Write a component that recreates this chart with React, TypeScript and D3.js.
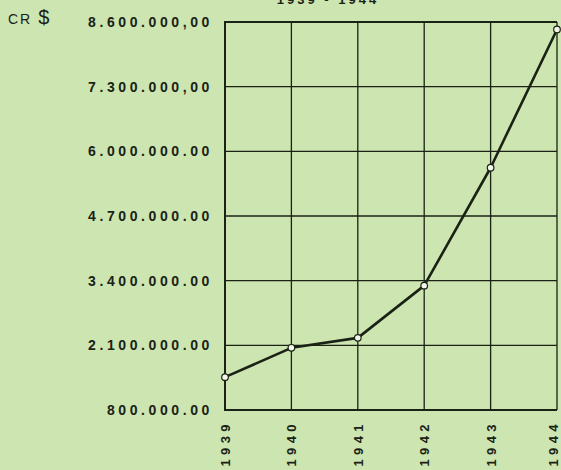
import * as d3 from 'd3';

// valores (Cr$)
const years = ['1939', '1940', '1941', '1942', '1943', '1944'];
const values = [1460000, 2050000, 2250000, 3300000, 5670000, 8450000];
const yTicks = [800000, 2100000, 3400000, 4700000, 6000000, 7300000, 8600000];
const yTickLabels = [
  '800.000.00',
  '2.100.000.00',
  '3.400.000.00',
  '4.700.000.00',
  '6.000.000.00',
  '7.300.000,00',
  '8.600.000,00',
];
const title = '1939 - 1944';
const unit = ['CR', '$'];

const W = 561;
const H = 470;
const margin = { top: 22, right: 4, bottom: 60, left: 225 };
const ink = '#1a2216';
const font = '"Liberation Sans", Arial, sans-serif';

export default function App() {
  const x = d3.scalePoint<string>()
    .domain(years)
    .range([margin.left, W - margin.right]);

  const y = d3.scaleLinear()
    .domain([yTicks[0], yTicks[yTicks.length - 1]])
    .range([H - margin.bottom, margin.top]);

  const line = d3.line<number>()
    .x((_, i) => x(years[i])!)
    .y(d => y(d));

  const x0 = margin.left;
  const x1 = W - margin.right;
  const yBottom = y(yTicks[0]);
  const yTop = y(yTicks[yTicks.length - 1]);

  return (
    <svg
      width={W}
      height={H}
      style={{ position: 'absolute', left: 0, top: 0, background: '#cde5b0' }}
    >
      <rect width={W} height={H} fill="#cde5b0" />

      {/* título cortado arriba */}
      <text x={328} y={4} textAnchor="middle" fontFamily={font} fontWeight="bold" fontSize={13} letterSpacing={3} fill={ink}>
        {title}
      </text>

      <text x={8} y={24} fontFamily={font} fontSize={14} fill={ink}>
        <tspan letterSpacing={2}>{unit[0]}</tspan>
        <tspan dx={6} fontSize={20}>{unit[1]}</tspan>
      </text>

      {/* grilla horizontal */}
      {yTicks.map((t, i) => (
        <g key={t}>
          <line x1={x0} x2={x1} y1={y(t)} y2={y(t)} stroke={ink} strokeWidth={1.3} />
          <text
            x={213}
            y={y(t)}
            dy="0.36em"
            textAnchor="end"
            fontFamily={font}
            fontWeight="bold"
            fontSize={14}
            letterSpacing={3.6}
            fill={ink}
          >
            {yTickLabels[i]}
          </text>
        </g>
      ))}

      {/* grilla vertical y años */}
      {years.map(yr => (
        <g key={yr}>
          <line x1={x(yr)} x2={x(yr)} y1={yTop} y2={yBottom} stroke={ink} strokeWidth={1.3} />
          <text
            transform={`translate(${Math.min(x(yr)! + 5, W - 3)},420) rotate(-90)`}
            textAnchor="end"
            fontFamily={font}
            fontWeight="bold"
            fontSize={13}
            letterSpacing={4.4}
            fill={ink}
          >
            {yr}
          </text>
        </g>
      ))}

      {/* marco */}
      <line x1={x0} x2={x0} y1={yTop - 1} y2={yBottom + 1} stroke={ink} strokeWidth={2} />
      <line x1={x0} x2={x1} y1={yBottom} y2={yBottom} stroke={ink} strokeWidth={2} />
      <line x1={x0} x2={x1} y1={yTop} y2={yTop} stroke={ink} strokeWidth={2} />

      <path d={line(values)!} fill="none" stroke={ink} strokeWidth={2.6} strokeLinejoin="round" />
      {values.map((v, i) => (
        <circle key={years[i]} cx={x(years[i])} cy={y(v)} r={3.3} fill="#f4f7ec" stroke={ink} strokeWidth={1.2} />
      ))}
    </svg>
  );
}
